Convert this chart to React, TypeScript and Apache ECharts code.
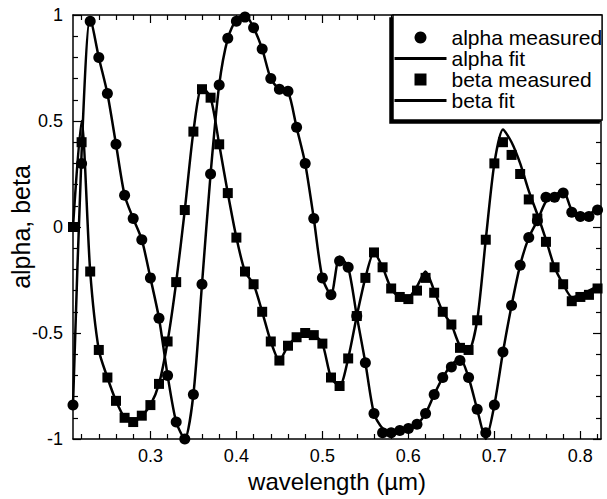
import React, { useEffect, useRef } from "react";
import * as echarts from "echarts";

const wavelength = [
  0.21, 0.22, 0.23, 0.24, 0.25, 0.26, 0.27, 0.28, 0.29, 0.3,
  0.31, 0.32, 0.33, 0.34, 0.35, 0.36, 0.37, 0.38, 0.39, 0.4,
  0.41, 0.42, 0.43, 0.44, 0.45, 0.46, 0.47, 0.48, 0.49, 0.5,
  0.51, 0.52, 0.53, 0.54, 0.55, 0.56, 0.57, 0.58, 0.59, 0.6,
  0.61, 0.62, 0.63, 0.64, 0.65, 0.66, 0.67, 0.68, 0.69, 0.7,
  0.71, 0.72, 0.73, 0.74, 0.75, 0.76, 0.77, 0.78, 0.79, 0.8,
  0.81, 0.82,
];

const alphaMeasured = [
  -0.84, 0.3, 0.97, 0.8, 0.63, 0.39, 0.15, 0.04, -0.06, -0.24,
  -0.43, -0.7, -0.92, -1.0, -0.79, -0.27, 0.25, 0.67, 0.89, 0.97,
  0.99, 0.94, 0.84, 0.7, 0.65, 0.64, 0.47, 0.3, 0.04, -0.24,
  -0.32, -0.16, -0.19, -0.42, -0.64, -0.88, -0.97, -0.97, -0.96, -0.95,
  -0.93, -0.88, -0.79, -0.71, -0.66, -0.63, -0.71, -0.86, -0.97, -0.84,
  -0.59, -0.37, -0.18, -0.05, 0.03, 0.14, 0.14, 0.16, 0.07, 0.05,
  0.05, 0.08,
];

const alphaFit = [
  -0.84, 0.35, 0.99, 0.8, 0.63, 0.39, 0.15, 0.04, -0.06, -0.24,
  -0.43, -0.7, -0.92, -1.0, -0.79, -0.27, 0.25, 0.67, 0.89, 0.98,
  1.0, 0.94, 0.84, 0.7, 0.65, 0.64, 0.47, 0.3, 0.04, -0.24,
  -0.32, -0.14, -0.19, -0.42, -0.64, -0.88, -0.95, -0.96, -0.96, -0.95,
  -0.93, -0.88, -0.79, -0.71, -0.65, -0.62, -0.71, -0.86, -1.0, -0.84,
  -0.59, -0.37, -0.18, -0.05, 0.03, 0.12, 0.15, 0.17, 0.08, 0.06,
  0.06, 0.1,
];

const betaMeasured = [
  0.0, 0.4, -0.21, -0.58, -0.71, -0.82, -0.9, -0.92, -0.89, -0.84,
  -0.74, -0.54, -0.26, 0.08, 0.45, 0.65, 0.61, 0.39, 0.16, -0.05,
  -0.21, -0.27, -0.4, -0.54, -0.63, -0.56, -0.52, -0.5, -0.51, -0.55,
  -0.71, -0.75, -0.62, -0.42, -0.24, -0.12, -0.19, -0.29, -0.33, -0.34,
  -0.3, -0.24, -0.31, -0.4, -0.46, -0.57, -0.58, -0.44, -0.06, 0.3,
  0.4, 0.34, 0.25, 0.13, 0.04, -0.07, -0.19, -0.27, -0.35, -0.33,
  -0.32, -0.29,
];

const betaFit = [
  0.0, 0.5, -0.21, -0.58, -0.71, -0.82, -0.9, -0.92, -0.89, -0.84,
  -0.74, -0.54, -0.26, 0.08, 0.45, 0.66, 0.61, 0.39, 0.16, -0.05,
  -0.21, -0.27, -0.4, -0.54, -0.63, -0.56, -0.52, -0.5, -0.51, -0.55,
  -0.71, -0.75, -0.62, -0.42, -0.24, -0.12, -0.19, -0.29, -0.33, -0.33,
  -0.28, -0.21, -0.3, -0.4, -0.46, -0.56, -0.58, -0.44, -0.06, 0.3,
  0.46, 0.4, 0.3, 0.17, 0.06, -0.06, -0.19, -0.27, -0.33, -0.32,
  -0.3, -0.28,
];

const xMajorTicks = [0.3, 0.4, 0.5, 0.6, 0.7, 0.8];
const xMinorTicks = [
  0.22, 0.24, 0.26, 0.28, 0.32, 0.34, 0.36, 0.38, 0.42, 0.44, 0.46, 0.48,
  0.52, 0.54, 0.56, 0.58, 0.62, 0.64, 0.66, 0.68, 0.72, 0.74, 0.76, 0.78,
  0.82,
];

const seriesNames = ["alpha measured", "alpha fit", "beta measured", "beta fit"];

const FONT = "'Liberation Sans', Arial, Helvetica, sans-serif";
const SQUARE_ICON = "path://M0,0L10,0L10,10L0,10Z";

export default function App() {
  const ref = useRef<HTMLDivElement>(null);

  useEffect(() => {
    if (!ref.current) return;
    const chart = echarts.init(ref.current, null, { renderer: "svg" });
    const pair = (xs: number[], ys: number[]) => xs.map((x, i) => [x, ys[i]]);
    const axisLineStyle = { color: "#000", width: 1.5 };
    const tickLine = { color: "#000", width: 1.2 };

    const xAxisBase = {
      type: "value",
      min: 0.21,
      max: 0.824,
      splitLine: { show: false },
      axisLine: { show: true, onZero: false, lineStyle: axisLineStyle },
    };
    const hiddenLine = { show: false, onZero: false };

    const yAxisBase = {
      type: "value",
      min: -1,
      max: 1,
      interval: 0.5,
      splitLine: { show: false },
      axisLine: { show: true, onZero: false, lineStyle: axisLineStyle },
      axisTick: { show: true, inside: true, length: 8, lineStyle: tickLine },
      minorTick: { show: true, splitNumber: 5, length: 5, lineStyle: tickLine },
    };

    const hiddenSymbol = { color: "rgba(0,0,0,0)", borderColor: "rgba(0,0,0,0)", borderWidth: 0, opacity: 0 };

    chart.setOption({
      animation: false,
      backgroundColor: "#fff",
      textStyle: { fontFamily: FONT },
      grid: {
        left: 73,
        right: 6,
        top: 15,
        bottom: 60,
        containLabel: false,
        outerBoundsMode: "none",
      },
      xAxis: [
        {
          ...xAxisBase,
          position: "bottom",
          name: "wavelength (µm)",
          nameLocation: "middle",
          nameGap: 30,
          nameMoveOverlap: false,
          nameTextStyle: { fontSize: 24, color: "#000", fontFamily: FONT },
          axisLabel: {
            customValues: xMajorTicks,
            formatter: (v: number) => v.toFixed(1),
            fontSize: 18,
            color: "#000",
            margin: 8,
            fontFamily: FONT,
          },
          axisTick: {
            show: true,
            inside: true,
            length: 8,
            customValues: xMajorTicks,
            lineStyle: tickLine,
          },
        },
        {
          ...xAxisBase,
          position: "bottom",
          axisLine: hiddenLine,
          axisLabel: { show: false },
          axisTick: {
            show: true,
            inside: true,
            length: 5,
            customValues: xMinorTicks,
            lineStyle: tickLine,
          },
        },
        {
          ...xAxisBase,
          position: "top",
          axisLabel: { show: false },
          axisTick: {
            show: true,
            inside: true,
            length: 8,
            customValues: xMajorTicks,
            lineStyle: tickLine,
          },
        },
        {
          ...xAxisBase,
          position: "top",
          axisLine: hiddenLine,
          axisLabel: { show: false },
          axisTick: {
            show: true,
            inside: true,
            length: 5,
            customValues: xMinorTicks,
            lineStyle: tickLine,
          },
        },
      ],
      yAxis: [
        {
          ...yAxisBase,
          position: "left",
          name: "alpha, beta",
          nameLocation: "middle",
          nameGap: 40,
          nameMoveOverlap: false,
          nameTextStyle: { fontSize: 25, color: "#000", fontFamily: FONT },
          axisLabel: { fontSize: 18, color: "#000", margin: 10, fontFamily: FONT },
        },
        {
          ...yAxisBase,
          position: "right",
          axisLabel: { show: false },
        },
      ],
      legend: {
        orient: "vertical",
        left: 393,
        top: 15,
        padding: [12, 0, 9, 0],
        itemGap: 0,
        itemWidth: 52,
        itemHeight: 12,
        backgroundColor: "#fff",
        borderColor: "#000",
        borderWidth: 1.5,
        borderRadius: 0,
        shadowColor: "#000",
        shadowBlur: 0,
        shadowOffsetX: -3,
        shadowOffsetY: 3,
        selectedMode: false,
        lineStyle: { width: 3, color: "#000" },
        textStyle: { fontSize: 21, color: "#000", lineHeight: 19, fontFamily: FONT },
        data: [
          { name: seriesNames[0], icon: "circle", itemStyle: { color: "#000", opacity: 1 } },
          {
            name: seriesNames[1],
            itemStyle: hiddenSymbol,
            lineStyle: { color: "#000", width: 3, opacity: 1 },
          },
          { name: seriesNames[2], icon: SQUARE_ICON, itemStyle: { color: "#000", opacity: 1 } },
          {
            name: seriesNames[3],
            itemStyle: hiddenSymbol,
            lineStyle: { color: "#000", width: 3, opacity: 1 },
          },
        ],
      },
      series: [
        {
          name: seriesNames[0],
          type: "scatter",
          symbol: "circle",
          symbolSize: 11,
          itemStyle: { color: "#000", opacity: 1 },
          data: pair(wavelength, alphaMeasured),
          z: 3,
        },
        {
          name: seriesNames[1],
          type: "line",
          symbol: "none",
          smooth: 0.25,
          lineStyle: { color: "#000", width: 2.5 },
          itemStyle: { color: "#000" },
          data: pair(wavelength, alphaFit),
          z: 2,
        },
        {
          name: seriesNames[2],
          type: "scatter",
          symbol: "rect",
          symbolSize: 10,
          itemStyle: { color: "#000", opacity: 1 },
          data: pair(wavelength, betaMeasured),
          z: 3,
        },
        {
          name: seriesNames[3],
          type: "line",
          symbol: "none",
          smooth: 0.25,
          lineStyle: { color: "#000", width: 2.5 },
          itemStyle: { color: "#000" },
          data: pair(wavelength, betaFit),
          z: 2,
        },
      ],
    });

    return () => chart.dispose();
  }, []);

  return (
    <div
      ref={ref}
      style={{ position: "fixed", left: 0, top: 0, width: 607, height: 499 }}
    />
  );
}
